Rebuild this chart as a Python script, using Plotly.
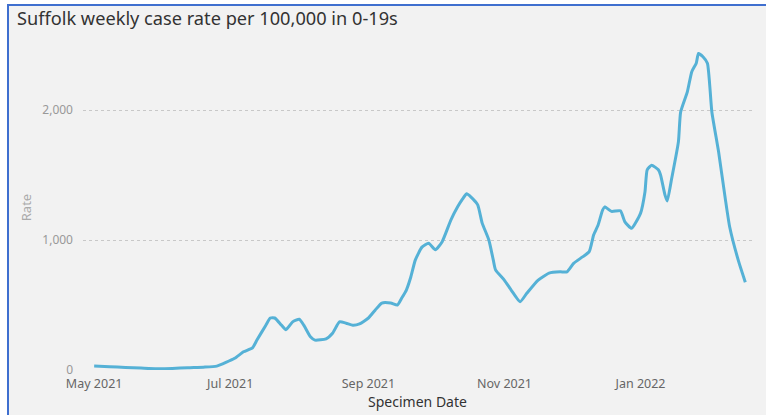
import plotly.graph_objects as go

dates = [
    "2021-05-01", "2021-05-08", "2021-05-15", "2021-05-22", "2021-05-29",
    "2021-06-05", "2021-06-12", "2021-06-19", "2021-06-25", "2021-07-03",
    "2021-07-07", "2021-07-11", "2021-07-13", "2021-07-17", "2021-07-19",
    "2021-07-21", "2021-07-24", "2021-07-26", "2021-07-29", "2021-08-01",
    "2021-08-03", "2021-08-06", "2021-08-08", "2021-08-13", "2021-08-16",
    "2021-08-19", "2021-08-22", "2021-08-25", "2021-08-28", "2021-09-01",
    "2021-09-04", "2021-09-07", "2021-09-11", "2021-09-14", "2021-09-16",
    "2021-09-18", "2021-09-20", "2021-09-22", "2021-09-25", "2021-09-28",
    "2021-10-01", "2021-10-04", "2021-10-08", "2021-10-11", "2021-10-13",
    "2021-10-15", "2021-10-17", "2021-10-20", "2021-10-22", "2021-10-25",
    "2021-10-27", "2021-10-28", "2021-11-01", "2021-11-04", "2021-11-08",
    "2021-11-11", "2021-11-16", "2021-11-21", "2021-11-26", "2021-11-29",
    "2021-12-02", "2021-12-06", "2021-12-09", "2021-12-11", "2021-12-13",
    "2021-12-15", "2021-12-16", "2021-12-19", "2021-12-23", "2021-12-25",
    "2021-12-28", "2022-01-01", "2022-01-03", "2022-01-04", "2022-01-06",
    "2022-01-09", "2022-01-10", "2022-01-12", "2022-01-13", "2022-01-15",
    "2022-01-18", "2022-01-19", "2022-01-22", "2022-01-24", "2022-01-26",
    "2022-01-27", "2022-01-29", "2022-01-31", "2022-02-02", "2022-02-05",
    "2022-02-08", "2022-02-10", "2022-02-14", "2022-02-17",
]
rates = [
    30, 25, 20, 15, 10,
    12, 18, 22, 30, 90,
    140, 170, 230, 345, 400,
    400, 345, 310, 370, 390,
    345, 255, 230, 240, 285,
    370, 360, 345, 355, 400,
    460, 515, 515, 500, 555,
    615, 715, 845, 945, 975,
    925, 985, 1155, 1255, 1310,
    1355, 1330, 1270, 1130, 1000,
    845, 770, 690, 615, 525,
    590, 690, 745, 755, 755,
    820, 870, 910, 1040, 1115,
    1230, 1255, 1220, 1225, 1140,
    1090, 1205, 1370, 1540, 1575,
    1540, 1500, 1345, 1300, 1475,
    1755, 1985, 2140, 2295, 2360,
    2435, 2410, 2360, 1985, 1680,
    1320, 1100, 835, 675,
]
title_text = "Suffolk weekly case rate per 100,000 in 0-19s"
y_ticks = [0, 1000, 2000]
y_tick_labels = ["0", "1,000", "2,000"]

W, H = 766, 415
ML, MR, MT, MB = 83, 14, 45, 45
PW, PH = W - ML - MR, H - MT - MB

def px_x(p):
    return (p - ML) / PW

def px_y(p):
    return (H - MB - p) / PH

fig = go.Figure()
fig.add_trace(go.Scatter(
    x=dates, y=rates, mode="lines",
    line=dict(color="#55b1d6", width=3, shape="spline", smoothing=0.5),
    hoverinfo="skip",
))

font_fam = "Noto Sans, DejaVu Sans, sans-serif"

fig.update_layout(
    width=W, height=H,
    margin=dict(l=ML, r=MR, t=MT, b=MB, autoexpand=False),
    paper_bgcolor="white",
    plot_bgcolor="rgba(0,0,0,0)",
    showlegend=False,
    title=dict(
        text=title_text,
        x=17 / W, xanchor="left", xref="container",
        y=1 - 19 / H, yanchor="middle", yref="container",
        font=dict(family=font_fam, size=18.2, color="#333333"),
    ),
    shapes=[
        dict(type="rect", xref="paper", yref="paper", layer="below",
             x0=px_x(8), x1=px_x(W + 5), y0=px_y(H + 5), y1=px_y(5),
             fillcolor="#f2f2f2", line=dict(width=0)),
        dict(type="line", xref="paper", yref="paper", layer="below",
             x0=px_x(8), x1=px_x(8), y0=px_y(H + 5), y1=px_y(4),
             line=dict(color="#3f6fcf", width=2)),
        dict(type="line", xref="paper", yref="paper", layer="below",
             x0=px_x(7), x1=px_x(W + 5), y0=px_y(5), y1=px_y(5),
             line=dict(color="#3f6fcf", width=2)),
    ],
)

fig.update_xaxes(
    range=["2021-04-26", "2022-02-20"], automargin=False,
    tickformat="%b %Y", dtick="M2", tick0="2021-05-01",
    showgrid=False, zeroline=False, showline=False,
    ticks="", ticklabelstandoff=4,
    tickfont=dict(family=font_fam, size=12.5, color="#666666"),
    title=dict(text="Specimen Date", standoff=6,
               font=dict(family=font_fam, size=14, color="#333333")),
)
fig.update_yaxes(
    range=[0, 2500], automargin=False,
    tickvals=y_ticks, ticktext=y_tick_labels,
    showgrid=True, gridcolor="#c8c8c8", griddash="dot", gridwidth=1,
    zeroline=False, showline=False, ticks="", ticklabelstandoff=9,
    tickfont=dict(family=font_fam, size=12, color="#999999"),
    title=dict(text="Rate", standoff=7,
               font=dict(family=font_fam, size=13, color="#aaaaaa")),
)

fig.write_html(
    "out.html",
    config={"displayModeBar": False},
    post_script="document.body.style.margin='0';document.body.style.overflow='hidden';",
)
